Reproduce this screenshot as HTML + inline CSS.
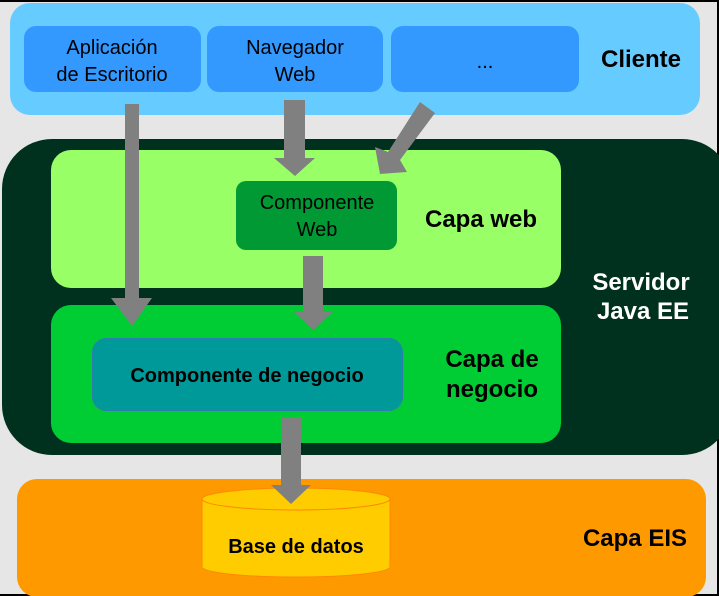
<!DOCTYPE html>
<html><head><meta charset="utf-8"><style>
html,body{margin:0;padding:0;background:#000;}
svg{display:block}
text{font-family:"Liberation Sans",sans-serif;}
</style></head><body>
<svg width="719" height="596" viewBox="0 0 719 596" xmlns="http://www.w3.org/2000/svg">
<rect x="0" y="2" width="717" height="592" fill="#e6e6e6"/>
<!-- Cliente -->
<rect x="10" y="3" width="690" height="112" rx="20" fill="#66ccff"/>
<rect x="24" y="26" width="177" height="66" rx="12" fill="#3399ff"/>
<rect x="207" y="26" width="176" height="66" rx="12" fill="#3399ff"/>
<rect x="391" y="26" width="188" height="66" rx="12" fill="#3399ff"/>
<text x="112" y="54" font-size="20" text-anchor="middle">Aplicación</text>
<text x="112" y="81" font-size="20" text-anchor="middle">de Escritorio</text>
<text x="295" y="54" font-size="20" text-anchor="middle">Navegador</text>
<text x="295" y="81" font-size="20" text-anchor="middle">Web</text>
<text x="485" y="68" font-size="20" text-anchor="middle">...</text>
<text x="641" y="67" font-size="24" font-weight="bold" text-anchor="middle">Cliente</text>
<!-- Servidor -->
<rect x="2" y="139" width="730" height="316" rx="50" fill="#00301e"/>
<text x="641" y="290" font-size="24" font-weight="bold" fill="#fff" text-anchor="middle">Servidor</text>
<text x="643" y="319" font-size="24" font-weight="bold" fill="#fff" text-anchor="middle">Java EE</text>
<rect x="51" y="150" width="510" height="138" rx="20" fill="#99ff66"/>
<rect x="236" y="181" width="161" height="69" rx="10" fill="#009933"/>
<text x="317" y="209" font-size="20" text-anchor="middle">Componente</text>
<text x="317" y="236" font-size="20" text-anchor="middle">Web</text>
<text x="481" y="227" font-size="24" font-weight="bold" text-anchor="middle">Capa web</text>
<rect x="51" y="305" width="510" height="138" rx="20" fill="#00cc33"/>
<rect x="92.5" y="338.5" width="310" height="72" rx="14" fill="#009999" stroke="#2a7fb0" stroke-width="1"/>
<text x="247" y="382" font-size="20" font-weight="bold" text-anchor="middle">Componente de negocio</text>
<text x="492" y="367" font-size="24" font-weight="bold" text-anchor="middle">Capa de</text>
<text x="492" y="397" font-size="24" font-weight="bold" text-anchor="middle">negocio</text>
<!-- EIS -->
<rect x="17" y="479" width="689" height="118" rx="20" fill="#ff9900"/>
<path d="M202,499 L202,567 A94,10 0 0 0 390,567 L390,499" fill="#ffcc00" stroke="#ff8800" stroke-width="1"/>
<ellipse cx="296" cy="499" rx="94" ry="11" fill="#ffcc00" stroke="#ff8800" stroke-width="1"/>
<text x="296" y="553" font-size="20" font-weight="bold" text-anchor="middle">Base de datos</text>
<text x="635" y="546" font-size="24" font-weight="bold" text-anchor="middle">Capa EIS</text>
<!-- Arrows -->
<g fill="#808080">
<polygon points="125,104 139,104 139,298 152,298 132,326 111,298 125,298"/>
<polygon points="284,100 305,100 305,158 315,158 295,176 274,158 284,158"/>
<polygon points="420,102 435,113 400,160 407,172 380,174 375,147 388,152"/>
<polygon points="303,256 323,256 323,312 333,312 313,330 294,312 303,312"/>
<polygon points="281,417 301,417 301,485 311,485 291,504 271,485 281,485"/>
</g>
</svg>
</body></html>
